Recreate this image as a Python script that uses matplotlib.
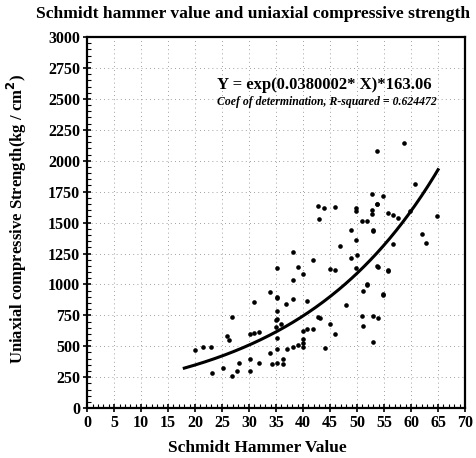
import numpy as np
import matplotlib
matplotlib.use("Agg")
import matplotlib.pyplot as plt
from matplotlib.ticker import MultipleLocator

# Schmidt hammer rebound value vs. uniaxial compressive strength (kg/cm2)
hammer = [
    31.0, 33.8, 35.1, 26.9, 35.1, 35.1, 26.0, 26.2, 30.1, 31.0, 31.9, 23.0,
    35.1, 35.1, 33.8, 28.2, 30.1, 31.9, 34.2, 35.1, 25.1, 30.1, 27.8, 23.2,
    26.9, 21.5, 20.0,
    47.9, 42.7, 44.9, 45.9, 41.8, 40.8, 39.9, 39.9, 39.9, 34.9, 34.9, 36.0,
    36.2, 36.2, 37.1, 38.1, 39.0, 39.9, 44.0, 35.1, 36.9, 38.1, 40.8, 43.1,
    50.9, 52.9, 53.8, 51.1, 52.9, 51.8, 51.1, 54.8,
    42.7, 43.8, 45.9, 49.8, 49.8, 52.7, 52.7, 53.7, 55.7, 56.6, 57.6, 42.9,
    48.8, 49.8, 52.9, 56.6, 62.0, 62.8, 64.8, 46.8, 38.1, 41.8, 48.8, 49.9,
    35.1, 39.0, 44.9, 45.9, 49.8, 53.8, 55.7, 39.9, 38.1, 51.8, 54.8,
    58.7, 53.7, 60.7, 52.7, 54.8, 53.7, 59.8, 50.9, 51.8, 52.9, 53.7, 55.7,
]
strength = [
    860, 941, 900, 738, 786, 722, 584, 551, 600, 608, 616, 495,
    568, 478, 446, 365, 397, 365, 357, 365, 324, 300, 300, 284,
    259, 490, 470,
    835, 738, 681, 600, 641, 641, 624, 559, 527, 714, 657, 681,
    397, 357, 478, 495, 511, 495, 486, 892, 843, 884, 868, 730,
    746, 746, 730, 665, 535, 1005, 949, 916,
    1638, 1622, 1630, 1622, 1597, 1605, 1573, 1654, 1581, 1565, 1541, 1532,
    1443, 1362, 1435, 1330, 1411, 1338, 1557, 1314, 1265, 1200, 1216, 1241,
    1135, 1143, 1127, 1119, 1135, 1143, 1119, 1087, 1038, 997, 924,
    2141, 2076, 1816, 1735, 1719, 1654, 1597, 1516, 1516, 1443, 1151, 1111,
]

# fitted model: Y = exp(0.0380002*X)*163.06
fit_a = 0.0380002
fit_b = 163.06
fit_range = (18, 65)

plt.rcParams["font.family"] = ["Liberation Serif", "DejaVu Serif"]
plt.rcParams["font.weight"] = "bold"

fig = plt.figure(figsize=(4.76, 4.58), dpi=100)
ax = fig.add_axes([0.183, 0.109, 0.794, 0.810])

ax.scatter(hammer, strength, s=11, c="black", marker="o", linewidths=0, zorder=3)

xs = np.linspace(fit_range[0], fit_range[1], 200)
ax.plot(xs, np.exp(fit_a * xs) * fit_b, color="black", lw=2.2, zorder=4)

ax.set_xlim(0, 70)
ax.set_ylim(0, 3000)
ax.xaxis.set_major_locator(MultipleLocator(5))
ax.xaxis.set_minor_locator(MultipleLocator(1))
ax.yaxis.set_major_locator(MultipleLocator(250))
ax.yaxis.set_minor_locator(MultipleLocator(50))
ax.tick_params(which="major", direction="inout", length=6, width=1.2, labelsize=11.5, pad=2)
ax.tick_params(which="minor", direction="in", length=3, width=0.8)
for lab in ax.get_xticklabels() + ax.get_yticklabels():
    lab.set_fontweight("bold")

ax.grid(True, which="major", color="0.5", linestyle=(0, (1, 4)), lw=0.6)
for s in ax.spines.values():
    s.set_linewidth(1.6)

ax.set_xlabel("Schmidt Hammer Value", fontsize=12.5, fontweight="bold")
ax.xaxis.set_label_coords(0.45, -0.085)
ax.set_ylabel("Uniaxial compressive Strength(kg / cm$^2$)", fontsize=12,
              fontweight="bold")
ax.yaxis.set_label_coords(-0.155, 0.51)
fig.text(0.532, 0.969, "Schmidt hammer value and uniaxial compressive strength",
         ha="center", va="center", fontsize=12.6, fontweight="bold")

ax.text(24.0, 2610, "Y = exp(0.0380002* X)*163.06", fontsize=12, fontweight="bold",
        va="center")
ax.text(24.0, 2475, "Coef of determination, R-squared = 0.624472", fontsize=8.5,
        fontweight="bold", style="italic", va="center")

fig.savefig("out.png", dpi=100)
